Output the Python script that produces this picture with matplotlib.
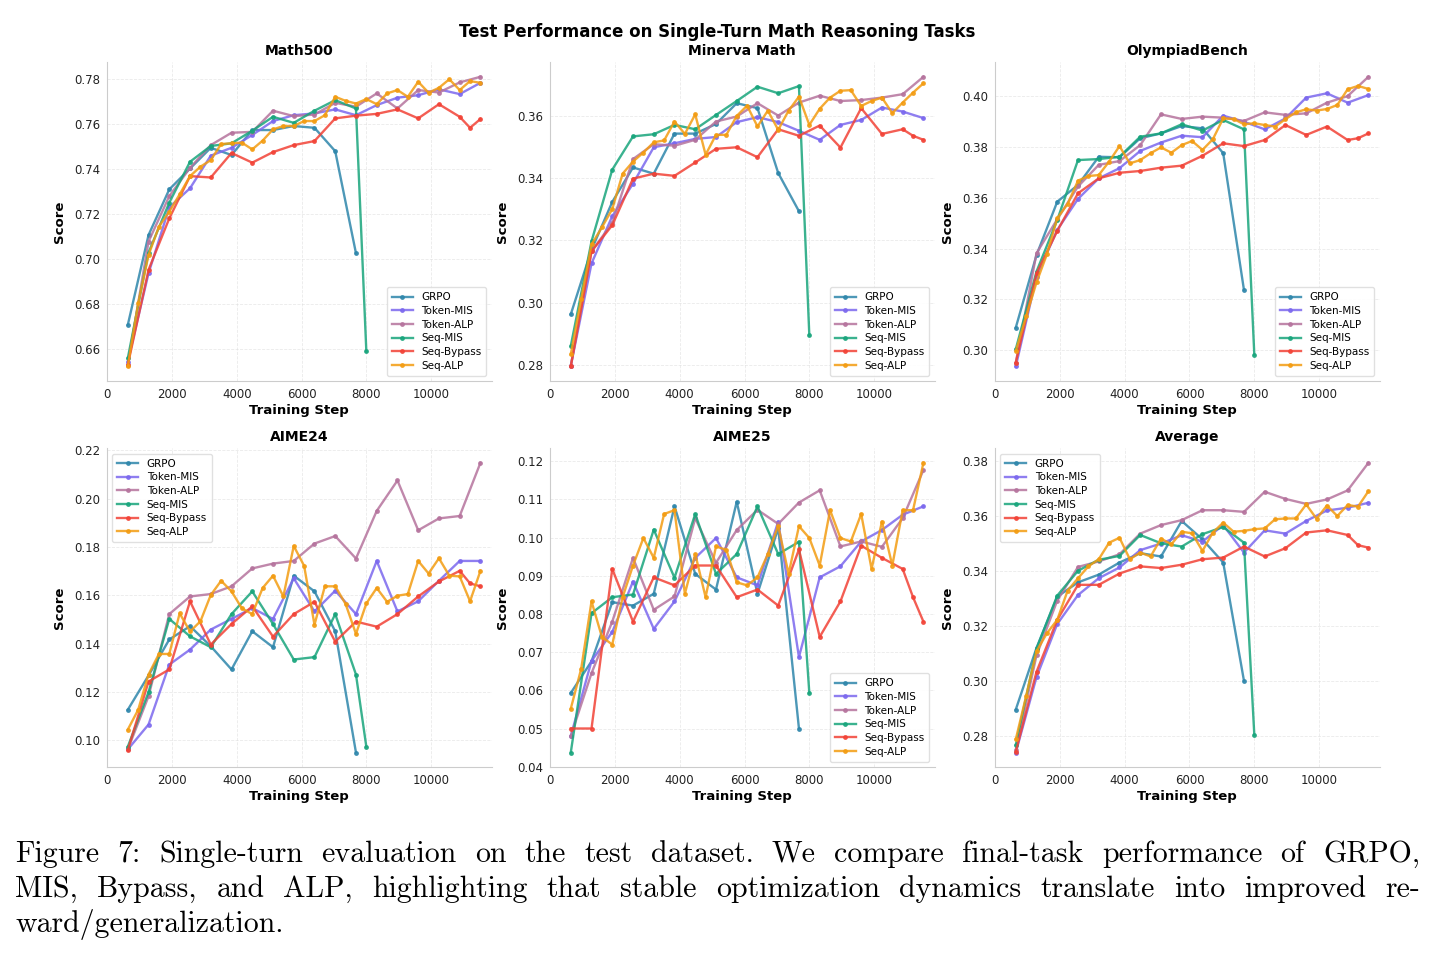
import numpy as np
import matplotlib
matplotlib.use("Agg")
import matplotlib.pyplot as plt
from matplotlib.ticker import MultipleLocator

# training steps
steps = [640 * i for i in range(1, 19)]          # 640 .. 11520
grpo_steps = steps[:12]
seqmis_steps = steps[:12] + [8000]
bypass_steps = steps[:17] + [11200, 11520]
alp_steps = [640 + 320 * i for i in range(35)]   # 640 .. 11520

# Math500
m500_grpo = [0.6708, 0.7108, 0.7311, 0.7404, 0.7496, 0.7464, 0.7575, 0.7575, 0.7593, 0.7585, 0.7481, 0.7027]
m500_tokmis = [0.6545, 0.6938, 0.7231, 0.7316, 0.7461, 0.7496, 0.7553, 0.7615, 0.7641, 0.7649, 0.7667, 0.7641, 0.7686, 0.7719, 0.7730, 0.7756, 0.7735, 0.7785]
m500_tokalp = [0.6530, 0.7079, 0.7281, 0.7407, 0.7508, 0.7563, 0.7567, 0.7661, 0.7637, 0.7644, 0.7696, 0.7679, 0.7738, 0.7671, 0.7753, 0.7742, 0.7787, 0.7812]
m500_seqmis = [0.6560, 0.7030, 0.7252, 0.7434, 0.7504, 0.7516, 0.7572, 0.7634, 0.7607, 0.7661, 0.7708, 0.7671, 0.6590]
m500_bypass = [0.6530, 0.6953, 0.7182, 0.7370, 0.7364, 0.7473, 0.7430, 0.7477, 0.7508, 0.7526, 0.7627, 0.7639, 0.7647, 0.7667, 0.7627, 0.7690, 0.7634, 0.7585, 0.7624]
m500_seqalp = [0.6523, 0.6804, 0.7019, 0.7145, 0.7212, 0.7289, 0.7370, 0.7412, 0.7441, 0.7513, 0.7516, 0.7519, 0.7489, 0.7528, 0.7578, 0.7593, 0.7593, 0.7615, 0.7615, 0.7641, 0.7723, 0.7705, 0.7693, 0.7713, 0.7690, 0.7738, 0.7753, 0.7723, 0.7790, 0.7741, 0.7763, 0.7801, 0.7753, 0.7793, 0.7785]

# Minerva Math
mnv_grpo = [0.2962, 0.3170, 0.3324, 0.3435, 0.3415, 0.3544, 0.3544, 0.3575, 0.3642, 0.3626, 0.3417, 0.3294]
mnv_tokmis = [0.2796, 0.3126, 0.3278, 0.3383, 0.3500, 0.3513, 0.3527, 0.3533, 0.3581, 0.3597, 0.3581, 0.3553, 0.3524, 0.3572, 0.3588, 0.3628, 0.3615, 0.3594]
mnv_tokalp = [0.2796, 0.3165, 0.3256, 0.3462, 0.3510, 0.3505, 0.3524, 0.3583, 0.3599, 0.3642, 0.3602, 0.3644, 0.3666, 0.3649, 0.3652, 0.3660, 0.3671, 0.3727]
mnv_seqmis = [0.2860, 0.3197, 0.3428, 0.3535, 0.3542, 0.3572, 0.3558, 0.3604, 0.3649, 0.3695, 0.3674, 0.3697, 0.2894]
mnv_bypass = [0.2794, 0.3165, 0.3249, 0.3399, 0.3415, 0.3408, 0.3451, 0.3495, 0.3500, 0.3468, 0.3558, 0.3537, 0.3570, 0.3499, 0.3626, 0.3543, 0.3558, 0.3537, 0.3524]
mnv_seqalp = [0.2833, 0.3010, 0.3187, 0.3242, 0.3301, 0.3415, 0.3454, 0.3483, 0.3516, 0.3522, 0.3583, 0.3543, 0.3606, 0.3476, 0.3540, 0.3540, 0.3601, 0.3634, 0.3567, 0.3618, 0.3556, 0.3618, 0.3663, 0.3572, 0.3624, 0.3660, 0.3682, 0.3684, 0.3633, 0.3649, 0.3660, 0.3610, 0.3644, 0.3676, 0.3706]

# OlympiadBench
oly_grpo = [0.3089, 0.3375, 0.3585, 0.3651, 0.3762, 0.3760, 0.3835, 0.3854, 0.3883, 0.3874, 0.3776, 0.3238]
oly_tokmis = [0.2936, 0.3290, 0.3474, 0.3596, 0.3677, 0.3717, 0.3785, 0.3818, 0.3845, 0.3839, 0.3924, 0.3900, 0.3870, 0.3913, 0.3995, 0.4012, 0.3975, 0.4005]
oly_tokalp = [0.2951, 0.3382, 0.3516, 0.3645, 0.3730, 0.3745, 0.3808, 0.3929, 0.3911, 0.3920, 0.3916, 0.3903, 0.3937, 0.3927, 0.3933, 0.3975, 0.4001, 0.4077]
oly_seqmis = [0.3004, 0.3310, 0.3513, 0.3749, 0.3753, 0.3762, 0.3841, 0.3854, 0.3890, 0.3865, 0.3907, 0.3870, 0.2982]
oly_bypass = [0.2951, 0.3303, 0.3470, 0.3618, 0.3677, 0.3699, 0.3706, 0.3719, 0.3727, 0.3766, 0.3815, 0.3804, 0.3828, 0.3887, 0.3848, 0.3881, 0.3828, 0.3835, 0.3854]
oly_seqalp = [0.2997, 0.3133, 0.3267, 0.3378, 0.3520, 0.3576, 0.3668, 0.3686, 0.3690, 0.3743, 0.3804, 0.3736, 0.3749, 0.3776, 0.3799, 0.3778, 0.3808, 0.3824, 0.3789, 0.3831, 0.3913, 0.3911, 0.3890, 0.3894, 0.3887, 0.3881, 0.3910, 0.3937, 0.3949, 0.3944, 0.3950, 0.3966, 0.4028, 0.4041, 0.4029]

# AIME24
a24_grpo = [0.1126, 0.1268, 0.1417, 0.1472, 0.1389, 0.1293, 0.1451, 0.1385, 0.1681, 0.1616, 0.1451, 0.0949]
a24_tokmis = [0.0962, 0.1065, 0.1313, 0.1375, 0.1458, 0.1502, 0.1547, 0.1502, 0.1670, 0.1533, 0.1619, 0.1522, 0.1742, 0.1533, 0.1575, 0.1660, 0.1742, 0.1742]
a24_tokalp = [0.0962, 0.1182, 0.1522, 0.1595, 0.1605, 0.1637, 0.1711, 0.1731, 0.1742, 0.1814, 0.1845, 0.1752, 0.1949, 0.2075, 0.1869, 0.1918, 0.1928, 0.2148]
a24_seqmis = [0.0973, 0.1199, 0.1502, 0.1430, 0.1385, 0.1522, 0.1616, 0.1481, 0.1334, 0.1344, 0.1522, 0.1272, 0.0973]
a24_bypass = [0.0959, 0.1243, 0.1293, 0.1575, 0.1396, 0.1481, 0.1554, 0.1429, 0.1522, 0.1573, 0.1408, 0.1491, 0.1470, 0.1522, 0.1595, 0.1657, 0.1701, 0.1649, 0.1637]
a24_seqalp = [0.1044, 0.1126, 0.1272, 0.1357, 0.1357, 0.1525, 0.1450, 0.1492, 0.1601, 0.1660, 0.1616, 0.1546, 0.1522, 0.1630, 0.1681, 0.1595, 0.1804, 0.1722, 0.1478, 0.1637, 0.1637, 0.1564, 0.1440, 0.1566, 0.1630, 0.1573, 0.1598, 0.1605, 0.1742, 0.1690, 0.1753, 0.1681, 0.1678, 0.1575, 0.1701]

# AIME25
a25_grpo = [0.0593, 0.0676, 0.0831, 0.0822, 0.0853, 0.1082, 0.0905, 0.0864, 0.1094, 0.0853, 0.1025, 0.0500]
a25_tokmis = [0.0480, 0.0677, 0.0753, 0.0885, 0.0761, 0.0833, 0.0947, 0.0999, 0.0896, 0.0875, 0.1042, 0.0687, 0.0896, 0.0925, 0.0990, 0.1020, 0.1060, 0.1082]
a25_tokalp = [0.0480, 0.0645, 0.0780, 0.0947, 0.0811, 0.0846, 0.1051, 0.0934, 0.1020, 0.1073, 0.1036, 0.1092, 0.1124, 0.0977, 0.0990, 0.0976, 0.1051, 0.1177]
a25_seqmis = [0.0437, 0.0802, 0.0844, 0.0851, 0.1021, 0.0895, 0.1062, 0.0905, 0.0957, 0.1082, 0.0957, 0.0989, 0.0593]
a25_bypass = [0.0500, 0.0500, 0.0918, 0.0780, 0.0896, 0.0875, 0.0927, 0.0927, 0.0844, 0.0864, 0.0822, 0.0969, 0.0740, 0.0833, 0.0979, 0.0947, 0.0918, 0.0844, 0.0780]
a25_seqalp = [0.0552, 0.0656, 0.0833, 0.0740, 0.0720, 0.0844, 0.0927, 0.0999, 0.0947, 0.1062, 0.1072, 0.0853, 0.0957, 0.0844, 0.0977, 0.0968, 0.0883, 0.0875, 0.0896, 0.0957, 0.1031, 0.0905, 0.1030, 0.0999, 0.0927, 0.1072, 0.0999, 0.0990, 0.1062, 0.0918, 0.1042, 0.0927, 0.1072, 0.1072, 0.1196]

# Average
avg_grpo = [0.2896, 0.3120, 0.3306, 0.3358, 0.3386, 0.3430, 0.3464, 0.3452, 0.3581, 0.3514, 0.3430, 0.3001]
avg_tokmis = [0.2740, 0.3014, 0.3207, 0.3312, 0.3373, 0.3412, 0.3475, 0.3499, 0.3529, 0.3506, 0.3566, 0.3466, 0.3547, 0.3535, 0.3581, 0.3619, 0.3629, 0.3647]
avg_tokalp = [0.2749, 0.3093, 0.3292, 0.3414, 0.3434, 0.3460, 0.3535, 0.3566, 0.3584, 0.3620, 0.3620, 0.3614, 0.3687, 0.3661, 0.3643, 0.3659, 0.3692, 0.3792]
avg_seqmis = [0.2767, 0.3117, 0.3310, 0.3400, 0.3440, 0.3454, 0.3530, 0.3500, 0.3488, 0.3533, 0.3559, 0.3502, 0.2804]
avg_bypass = [0.2743, 0.3033, 0.3222, 0.3349, 0.3349, 0.3390, 0.3416, 0.3410, 0.3422, 0.3442, 0.3448, 0.3488, 0.3452, 0.3482, 0.3539, 0.3547, 0.3530, 0.3493, 0.3484]
avg_seqalp = [0.2788, 0.2945, 0.3108, 0.3173, 0.3222, 0.3328, 0.3373, 0.3416, 0.3442, 0.3502, 0.3520, 0.3442, 0.3466, 0.3452, 0.3517, 0.3496, 0.3542, 0.3536, 0.3472, 0.3539, 0.3575, 0.3542, 0.3545, 0.3551, 0.3554, 0.3587, 0.3590, 0.3590, 0.3641, 0.3589, 0.3637, 0.3599, 0.3639, 0.3633, 0.3689]

methods = ["GRPO", "Token-MIS", "Token-ALP", "Seq-MIS", "Seq-Bypass", "Seq-ALP"]
colors = ["#2E86AB", "#7B68EE", "#B5739D", "#18A57C", "#F24236", "#F39C12"]
method_steps = [grpo_steps, steps, steps, seqmis_steps, bypass_steps, alp_steps]

panels = [
    ("Math500", [m500_grpo, m500_tokmis, m500_tokalp, m500_seqmis, m500_bypass, m500_seqalp], 0.02, "lower right"),
    ("Minerva Math", [mnv_grpo, mnv_tokmis, mnv_tokalp, mnv_seqmis, mnv_bypass, mnv_seqalp], 0.02, "lower right"),
    ("OlympiadBench", [oly_grpo, oly_tokmis, oly_tokalp, oly_seqmis, oly_bypass, oly_seqalp], 0.02, "lower right"),
    ("AIME24", [a24_grpo, a24_tokmis, a24_tokalp, a24_seqmis, a24_bypass, a24_seqalp], 0.02, "upper left"),
    ("AIME25", [a25_grpo, a25_tokmis, a25_tokalp, a25_seqmis, a25_bypass, a25_seqalp], 0.01, "lower right"),
    ("Average", [avg_grpo, avg_tokmis, avg_tokalp, avg_seqmis, avg_bypass, avg_seqalp], 0.02, "upper left"),
]

fig = plt.figure(figsize=(14.35, 9.57), dpi=100)

lefts = [0.0746, 0.3833, 0.6934]
bottoms = [0.6019, 0.1985]
w, h = 0.268, 0.333

for k, (title, series, ystep, loc) in enumerate(panels):
    ax = fig.add_axes([lefts[k % 3], bottoms[k // 3], w, h])
    for name, col, xs, ys in zip(methods, colors, method_steps, series):
        ax.plot(xs, ys, color=col, marker="o", markersize=2.5, linewidth=1.7, alpha=0.85, label=name)
    ax.set_xlim(0, max(steps) * 1.03)
    ax.set_xticks([0, 2000, 4000, 6000, 8000, 10000])
    ax.yaxis.set_major_locator(MultipleLocator(ystep))
    ax.yaxis.set_major_formatter(matplotlib.ticker.FormatStrFormatter("%.2f"))
    ax.grid(True, linestyle="--", color="#dddddd", linewidth=0.6, alpha=0.6)
    ax.set_axisbelow(True)
    for s in ["top", "right"]:
        ax.spines[s].set_visible(False)
    for s in ["left", "bottom"]:
        ax.spines[s].set_color("#cccccc")
    ax.tick_params(length=0, labelsize=8.5, colors="#222222", pad=5)
    ax.set_title(title, fontsize=10, fontweight="bold", pad=5)
    ax.set_xlabel("Training Step", fontsize=9.5, fontweight="bold", labelpad=2)
    ax.set_ylabel("Score", fontsize=9.5, fontweight="bold", labelpad=6)
    ax.legend(loc=loc, fontsize=7.5, frameon=True, framealpha=0.9, edgecolor="#dddddd",
              handlelength=2.0, borderpad=0.5, labelspacing=0.35)

fig.suptitle("Test Performance on Single-Turn Math Reasoning Tasks", fontsize=12,
             fontweight="bold", y=0.976)

# caption, justified like LaTeX
cap_lines = [
    "Figure 7:  Single-turn evaluation on the test dataset.  We compare final-task performance of GRPO,",
    "MIS, Bypass, and ALP, highlighting that stable optimization dynamics translate into improved re-",
    "ward/generalization.",
]
cap_y = [1 - 862 / 957, 1 - 897 / 957, 1 - 932 / 957]
x0, x1 = 15 / 1435, 1420 / 1435
renderer = fig.canvas.get_renderer()
for i, (line, y) in enumerate(zip(cap_lines, cap_y)):
    words = line.split()
    texts = [fig.text(0, y, wd, fontsize=21.5, family="cmr10", va="baseline") for wd in words]
    widths = [t.get_window_extent(renderer).width / fig.bbox.width for t in texts]
    if i < len(cap_lines) - 1:
        gap = (x1 - x0 - sum(widths)) / (len(words) - 1)
    else:
        gap = 0.007
    x = x0
    for t, wd in zip(texts, widths):
        t.set_x(x)
        x += wd + gap

fig.savefig("out.png", dpi=100)
